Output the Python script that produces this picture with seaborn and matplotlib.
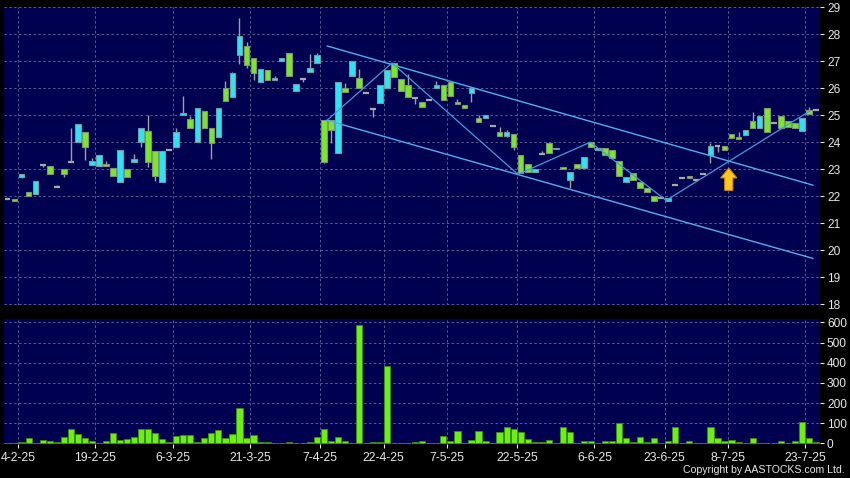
import numpy as np
import pandas as pd
import seaborn as sns
import matplotlib
matplotlib.use("Agg")
import matplotlib.pyplot as plt
from matplotlib.patches import FancyArrow

# ---------------- data ----------------
opens = [21.89, 21.89, 22.70, 22.15, 22.07, 23.15, 23.11, 22.33, 23.00, 23.26,
         24.00, 24.37, 23.15, 23.11, 23.19, 23.04, 22.52, 23.00, 23.26, 24.00,
         24.41, 23.67, 22.52, 23.70, 23.81, 25.00, 24.85, 24.00, 25.15, 24.52,
         24.19, 26.00, 25.67, 27.22, 27.56, 27.11, 26.22, 26.67, 26.30, 27.00,
         27.30, 25.89, 26.33, 26.59, 26.93, 24.81, 24.81, 23.59, 26.00, 26.44,
         26.37, 25.81, 25.22, 25.44, 26.00, 26.93, 26.33, 26.11, 25.63, 25.48,
         25.56, 26.00, 26.11, 26.22, 25.48, 25.37, 25.81, 24.89, 24.89, 24.59,
         24.37, 24.22, 24.30, 23.52, 23.19, 22.89, 23.56, 23.96, 23.74, 23.07,
         22.59, 23.19, 23.04, 24.00, 23.70, 23.78, 23.70, 23.30, 22.52, 22.85,
         22.52, 22.30, 22.00, 21.93, 21.81, 22.41, 22.67, 22.74, 22.59, 22.81,
         23.52, 23.85, 23.85, 24.30, 24.19, 24.26, 24.78, 24.52, 25.26, 24.70,
         24.96, 24.78, 24.70, 24.41, 25.19, 25.19]
highs = [21.89, 21.89, 22.81, 22.15, 22.56, 23.19, 23.11, 22.41, 23.00, 24.52,
         24.67, 24.37, 23.41, 23.52, 23.30, 23.04, 23.70, 23.00, 23.56, 24.52,
         25.00, 23.67, 23.67, 23.70, 24.52, 25.70, 24.96, 25.26, 25.15, 24.52,
         25.26, 26.26, 26.59, 28.59, 27.70, 27.11, 26.70, 26.67, 26.44, 27.11,
         27.30, 26.15, 26.33, 27.26, 27.30, 24.81, 24.81, 26.22, 26.19, 27.00,
         26.70, 25.81, 25.22, 26.11, 26.67, 26.93, 26.33, 26.52, 25.63, 25.48,
         25.56, 26.26, 26.11, 26.22, 25.59, 25.37, 26.00, 25.00, 25.00, 24.59,
         24.56, 24.44, 24.30, 23.52, 23.19, 23.00, 23.67, 23.96, 23.78, 23.07,
         22.89, 23.19, 23.44, 24.00, 23.78, 23.78, 23.70, 23.30, 22.70, 22.85,
         22.52, 22.30, 22.00, 21.93, 21.93, 22.41, 22.67, 22.74, 22.59, 22.81,
         23.96, 23.85, 23.85, 24.30, 24.37, 24.44, 25.11, 24.96, 25.26, 24.70,
         24.96, 24.78, 24.70, 24.89, 25.30, 25.19]
lows = [21.89, 21.81, 22.67, 22.00, 22.07, 23.07, 22.81, 22.33, 22.70, 23.26,
        24.00, 23.33, 23.15, 23.11, 23.11, 22.74, 22.52, 22.70, 23.26, 23.81,
        23.07, 22.56, 22.52, 23.70, 23.81, 25.00, 24.52, 24.00, 24.52, 23.37,
        24.19, 25.52, 25.67, 26.89, 26.74, 26.30, 26.22, 26.30, 26.30, 27.00,
        26.44, 25.89, 26.22, 26.59, 26.93, 23.22, 23.96, 23.59, 25.85, 26.44,
        26.00, 25.81, 24.93, 25.44, 26.00, 26.41, 25.89, 25.67, 25.41, 25.30,
        25.56, 26.00, 25.56, 25.70, 25.41, 25.26, 25.48, 24.74, 24.89, 24.59,
        24.22, 24.19, 23.70, 22.85, 22.89, 22.89, 23.56, 23.59, 23.74, 23.00,
        22.30, 23.04, 23.04, 23.81, 23.70, 23.52, 23.41, 22.74, 22.52, 22.59,
        22.30, 22.15, 21.81, 21.93, 21.81, 22.41, 22.67, 22.67, 22.59, 22.81,
        23.22, 23.63, 23.70, 24.15, 24.11, 24.26, 24.52, 24.52, 24.37, 24.70,
        24.52, 24.56, 24.52, 24.41, 25.04, 25.19]
closes = [21.89, 21.81, 22.81, 22.00, 22.56, 23.15, 22.81, 22.33, 22.81, 23.26,
          24.67, 23.81, 23.30, 23.52, 23.11, 22.74, 23.70, 22.70, 23.37, 24.52,
          23.26, 22.74, 23.67, 23.70, 24.37, 25.07, 24.52, 25.26, 24.52, 23.96,
          25.26, 25.52, 26.56, 27.93, 26.85, 26.56, 26.70, 26.30, 26.37, 27.11,
          26.44, 26.15, 26.33, 26.74, 27.22, 23.26, 24.44, 26.22, 25.85, 27.00,
          26.00, 25.81, 25.22, 26.11, 26.67, 26.41, 25.89, 25.67, 25.63, 25.30,
          25.56, 26.11, 25.56, 25.70, 25.41, 25.26, 26.00, 24.74, 25.00, 24.59,
          24.22, 24.37, 23.81, 22.85, 22.89, 23.00, 23.56, 23.59, 23.78, 23.00,
          22.89, 23.04, 23.44, 23.81, 23.78, 23.52, 23.41, 22.74, 22.70, 22.59,
          22.30, 22.15, 21.81, 21.93, 21.93, 22.41, 22.67, 22.67, 22.59, 22.81,
          23.85, 23.85, 23.70, 24.15, 24.11, 24.44, 24.52, 24.96, 24.37, 24.70,
          24.52, 24.56, 24.52, 24.89, 25.04, 25.19]
volumes = [0, 2, 6, 25, 2, 17, 12, 7, 30, 69,
           46, 26, 13, 2, 13, 51, 17, 21, 30, 69,
           69, 53, 20, 7, 38, 40, 40, 7, 25, 51,
           64, 26, 46, 177, 26, 40, 5, 5, 2, 0,
           5, 0, 2, 7, 31, 71, 10, 33, 10, 3,
           587, 0, 7, 7, 383, 1, 1, 1, 7, 10,
           3, 2, 35, 13, 63, 1, 17, 61, 12, 1,
           58, 79, 73, 58, 21, 8, 7, 18, 1, 81,
           56, 1, 10, 10, 3, 10, 12, 101, 25, 5,
           31, 7, 26, 1, 10, 83, 2, 12, 1, 1,
           79, 28, 13, 18, 5, 2, 25, 1, 3, 2,
           10, 2, 13, 106, 25, 5]
date_labels = ["4-2-25", "19-2-25", "6-3-25", "21-3-25", "7-4-25", "22-4-25",
               "7-5-25", "22-5-25", "6-6-25", "23-6-25", "8-7-25", "23-7-25"]
date_label_idx = [2, 13, 24, 35, 45, 54, 63, 73, 84, 94, 103, 114]
price_ticks = list(range(18, 30))
volume_ticks = [0, 100, 200, 300, 400, 500, 600]

# trend line annotations (index, price)
upper_channel_x = [45.45, 114.6]
upper_channel_y = [27.56, 22.41]
lower_channel_x = [45.45, 114.6]
lower_channel_y = [24.81, 19.70]
zigzag_x = [45.45, 54.7, 72.6, 82.9, 93.7, 114.1]
zigzag_y = [24.81, 26.93, 22.81, 24.0, 21.85, 25.15]
arrow_idx = 102.6
arrow_base, arrow_tip = 22.22, 23.04

# ---------------- style ----------------
sns.set_theme(style="dark")
plt.rcParams["font.family"] = ["Liberation Sans", "DejaVu Sans"]

BG = "#000000"
PANEL = "#000050"
GRID = "#5c5c92"
CYAN = "#30E2F2"
GREEN = "#7AE82A"
TXT = "#E8E8E8"

n = len(opens)
idx = np.arange(n)
df = pd.DataFrame({"idx": idx, "open": opens, "high": highs, "low": lows,
                   "close": closes, "volume": volumes})

fig = plt.figure(figsize=(8.5, 4.78), dpi=100, facecolor=BG)
ax_p = fig.add_axes([4 / 850, 1 - 305 / 478, 816 / 850, 298 / 478])
ax_v = fig.add_axes([4 / 850, 1 - 443.5 / 478, 816 / 850, 124.5 / 478])

xlim = (-0.5, 115.58)
grid_x = [i - 0.5 for i in date_label_idx]

for ax in (ax_p, ax_v):
    ax.set_facecolor(PANEL)
    for s in ax.spines.values():
        s.set_visible(False)
    ax.set_xlim(*xlim)
    ax.set_xticks(grid_x)
    ax.grid(True, color=GRID, linestyle=(0, (2.5, 2.5)), linewidth=0.7)
    ax.set_axisbelow(True)
    ax.yaxis.tick_right()
    ax.tick_params(axis="y", colors=TXT, labelsize=8.6, length=3, width=0.8,
                   pad=2, direction="out", left=False, right=True)

# ---------------- price panel ----------------
up = df["close"] > df["open"]
down = df["close"] < df["open"]
flat = df["close"] == df["open"]

ax_p.vlines(df["idx"], df["low"], df["high"], color="#A0A0A0", linewidth=1.0, zorder=2)
body_lo = np.minimum(df["open"], df["close"])
body_h = (df["close"] - df["open"]).abs()
ax_p.bar(df["idx"][up], body_h[up], bottom=body_lo[up], width=0.8,
         color=CYAN, edgecolor="#6E9EA6", linewidth=0.8, zorder=3)
ax_p.bar(df["idx"][down], body_h[down], bottom=body_lo[down], width=0.8,
         color=GREEN, edgecolor="#7E9670", linewidth=0.8, zorder=3)
ax_p.hlines(df["close"][flat], df["idx"][flat] - 0.42, df["idx"][flat] + 0.42,
            color="#A8A8A8", linewidth=1.6, zorder=3)

ax_p.plot(upper_channel_x, upper_channel_y, color="#4FB0EE", linewidth=1.0, zorder=4)
ax_p.plot(lower_channel_x, lower_channel_y, color="#4FB0EE", linewidth=1.0, zorder=4)
ax_p.plot(zigzag_x, zigzag_y, color="#3F9FE0", linewidth=0.9, zorder=4)

ax_p.add_patch(FancyArrow(arrow_idx, arrow_base, 0, arrow_tip - arrow_base,
                          width=1.15, head_width=2.3, head_length=0.36,
                          length_includes_head=True, facecolor="#FFC820",
                          edgecolor="#D98A00", linewidth=0.8, zorder=5))

ax_p.set_ylim(17.98, 29.0)
ax_p.set_yticks(price_ticks)
ax_p.set_yticklabels([str(t) for t in price_ticks])
ax_p.tick_params(axis="x", length=0, labelbottom=False)

# ---------------- volume panel ----------------
sns.barplot(data=df, x="idx", y="volume", native_scale=True, ax=ax_v,
            color="#6CF014", saturation=1, width=0.88,
            edgecolor="#3C8A12", linewidth=0.6, zorder=3)
ax_v.set_xlim(*xlim)
ax_v.set_ylim(-1, 617)
ax_v.set_yticks(volume_ticks)
ax_v.set_yticklabels([str(t) for t in volume_ticks])
ax_v.set_xticks(grid_x)
ax_v.set_xticklabels(date_labels)
ax_v.tick_params(axis="x", colors=TXT, labelsize=8.8, length=3, width=0.8,
                 pad=3, direction="out", bottom=True)
ax_v.set_xlabel("")
ax_v.set_ylabel("")

fig.text(0.994, 0.006, "Copyright by AASTOCKS.com Ltd.", ha="right", va="bottom",
         color=TXT, fontsize=7.6)

fig.savefig("out.png", dpi=100, facecolor=BG)
